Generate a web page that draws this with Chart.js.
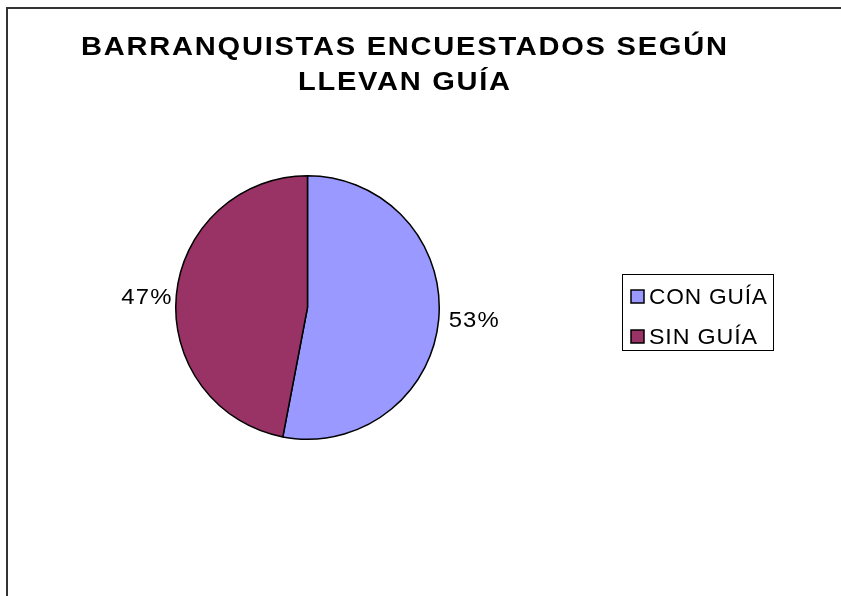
<!DOCTYPE html>
<html lang="es">
<head>
<meta charset="UTF-8" />
<title>Barranquistas encuestados según llevan guía</title>
<script src="https://cdn.jsdelivr.net/npm/chart.js"></script>
<style>
  body { margin: 0; background: #fff; }
  #wrap { position: relative; width: 841px; height: 596px; overflow: hidden; }
  #frame { position: absolute; left: 6px; top: 7px; width: 900px; height: 700px;
           border-left: 2px solid #333; border-top: 2px solid #333; }
  canvas { position: absolute; left: 0; top: 0; }
</style>
</head>
<body>
<div id="wrap">
  <div id="frame"></div>
  <canvas id="pieChart" width="841" height="596"></canvas>
</div>
<script>
// data
const titleLines = ["BARRANQUISTAS ENCUESTADOS SEGÚN", "LLEVAN GUÍA"];
const categories = ["CON GUÍA", "SIN GUÍA"];
const percentages = [53, 47];
const sliceColors = ["#9999FF", "#993366"];

const FONT = "'Liberation Sans', Arial, sans-serif";

// the original text is a bit wider than Arial, so stretch it to a given width
function stretchText(ctx, text, x, y, width, align, spacing) {
  ctx.save();
  ctx.letterSpacing = spacing + "px";
  ctx.textAlign = "left";
  const w = ctx.measureText(text).width - spacing;
  const sx = width / w;
  let x0 = x;
  if (align === "center") x0 = x - width / 2;
  if (align === "right") x0 = x - width;
  ctx.translate(x0, y);
  ctx.scale(sx, 1);
  ctx.fillText(text, 0, 0);
  ctx.restore();
}

// draws the title, the outside percent labels and the boxed legend
const decorPlugin = {
  id: "decor",
  afterDraw(chart) {
    const ctx = chart.ctx;
    ctx.save();
    ctx.fillStyle = "#000";

    // title
    ctx.font = "bold 25px " + FONT;
    ctx.textBaseline = "alphabetic";
    stretchText(ctx, titleLines[0], 404, 55, 646, "center", 1.5);
    stretchText(ctx, titleLines[1], 404, 90, 212, "center", 1.5);

    // percent labels outside each slice
    ctx.font = "22px " + FONT;
    ctx.textBaseline = "middle";
    const meta = chart.getDatasetMeta(0);
    meta.data.forEach((arc, i) => {
      const p = arc.getProps(["x", "y", "startAngle", "endAngle", "outerRadius"], true);
      const mid = (p.startAngle + p.endAngle) / 2;
      const r = p.outerRadius + 9;
      const tx = p.x + Math.cos(mid) * r;
      const ty = p.y + Math.sin(mid) * r;
      const right = Math.cos(mid) >= 0;
      stretchText(ctx, percentages[i] + "%", tx + (right ? 1 : 4), ty + (right ? 0 : 4),
                  50, right ? "left" : "right", 1);
    });

    // legend box
    const lx = 622, ly = 274, lw = 151, lh = 76;
    ctx.lineWidth = 1;
    ctx.strokeStyle = "#000";
    ctx.strokeRect(lx + 0.5, ly + 0.5, lw, lh);
    ctx.textBaseline = "alphabetic";
    ctx.font = "22px " + FONT;
    const legendWidths = [118, 108];
    categories.forEach((name, i) => {
      const sy = 290 + i * 40;
      ctx.fillStyle = sliceColors[i];
      ctx.fillRect(631, sy, 13, 13);
      ctx.lineWidth = 1.5;
      ctx.strokeRect(631, sy, 13, 13);
      ctx.fillStyle = "#000";
      stretchText(ctx, name, 649, sy + 14, legendWidths[i], "left", 0.8);
    });
    ctx.restore();
  }
};

new Chart(document.getElementById("pieChart"), {
  type: "pie",
  data: {
    labels: categories,
    datasets: [{
      data: percentages,
      backgroundColor: sliceColors,
      borderColor: "#000",
      borderWidth: 1.5
    }]
  },
  options: {
    responsive: false,
    animation: false,
    layout: { padding: { left: 175, top: 175, right: 401, bottom: 156 } },
    plugins: {
      legend: { display: false },
      title: { display: false },
      tooltip: { enabled: false }
    }
  },
  plugins: [decorPlugin]
});
</script>
</body>
</html>
